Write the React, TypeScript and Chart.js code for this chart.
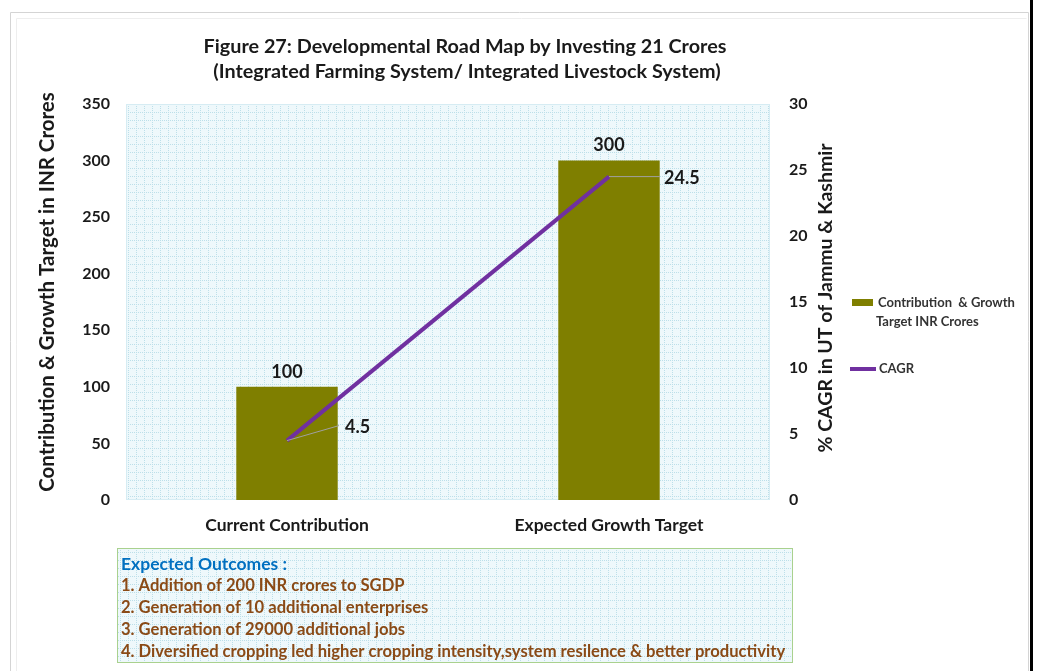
import React, { useEffect, useRef } from 'react';
import { Chart, registerables } from 'chart.js';

Chart.register(...registerables);

const titleLines = [
  'Figure 27: Developmental Road Map by Investing 21 Crores',
  '(Integrated Farming System/ Integrated Livestock System)',
];
const categories = ['Current Contribution', 'Expected Growth Target'];
const contributionValues = [100, 300];
const cagrValues = [4.5, 24.5];
const leftAxisTitle = 'Contribution & Growth Target in INR Crores';
const rightAxisTitle = '% CAGR in UT of Jammu & Kashmir';
const barLegendLines = ['Contribution  & Growth', 'Target INR Crores'];
const lineLegend = 'CAGR';
const outcomeHeading = 'Expected Outcomes :';
const outcomes = [
  '1. Addition of 200 INR crores to SGDP',
  '2. Generation of 10 additional enterprises',
  '3. Generation of 29000 additional jobs',
  '4. Diversified cropping led higher cropping intensity,system resilence & better productivity',
];

const FONT = 'Lato';
const BAR_COLOR = '#7f7f00';
const LINE_COLOR = '#7030a0';
const TEXT = '#1a1a1a';

function makePattern(ctx: CanvasRenderingContext2D) {
  const pc = document.createElement('canvas');
  pc.width = 8;
  pc.height = 8;
  const g = pc.getContext('2d')!;
  g.fillStyle = '#eef8fb';
  g.fillRect(0, 0, 8, 8);
  g.fillStyle = '#bcdfe9';
  for (let i = 0; i < 8; i += 2) {
    g.fillRect(0, i, 1, 1);
    g.fillRect(i, 0, 1, 1);
  }
  return ctx.createPattern(pc, 'repeat')!;
}

const decorPlugin = {
  id: 'decor',
  beforeDraw(chart: any) {
    const { ctx, chartArea, width, height } = chart;
    ctx.save();
    ctx.fillStyle = '#ffffff';
    ctx.fillRect(0, 0, width, height);
    ctx.strokeStyle = '#d4d4d4';
    ctx.lineWidth = 1;
    ctx.beginPath();
    ctx.moveTo(10.5, height);
    ctx.lineTo(10.5, 12.5);
    ctx.lineTo(1028.5, 12.5);
    ctx.lineTo(1028.5, height);
    ctx.stroke();
    ctx.strokeStyle = '#eeeeee';
    ctx.beginPath();
    ctx.moveTo(16.5, height);
    ctx.lineTo(16.5, 18.5);
    ctx.lineTo(1026.5, 18.5);
    ctx.stroke();
    ctx.fillStyle = '#000000';
    ctx.fillRect(1030, 0, 3, height);
    const pat = makePattern(ctx);
    ctx.fillStyle = pat;
    ctx.fillRect(chartArea.left, chartArea.top, chartArea.right - chartArea.left, chartArea.bottom - chartArea.top);
    ctx.strokeStyle = '#d6ecf3';
    ctx.strokeRect(chartArea.left + 0.5, chartArea.top + 0.5, chartArea.right - chartArea.left - 1, chartArea.bottom - chartArea.top - 1);
    ctx.restore();
  },
  afterDatasetsDraw(chart: any) {
    const { ctx } = chart;
    const barMeta = chart.getDatasetMeta(1);
    const lineMeta = chart.getDatasetMeta(0);
    ctx.save();
    ctx.font = `bold 18px ${FONT}`;
    ctx.fillStyle = TEXT;
    ctx.textAlign = 'center';
    ctx.textBaseline = 'middle';
    barMeta.data.forEach((el: any, i: number) => {
      ctx.fillText(String(contributionValues[i]), el.x, el.y - 15);
    });
    const offsets = [
      { lx: 52, ly: -15, tx: 58, ty: -13 },
      { lx: 51, ly: 0, tx: 55, ty: 2 },
    ];
    lineMeta.data.forEach((el: any, i: number) => {
      const o = offsets[i];
      ctx.strokeStyle = '#a0a0a0';
      ctx.lineWidth = 1;
      ctx.beginPath();
      ctx.moveTo(el.x, el.y);
      ctx.lineTo(el.x + o.lx, el.y + o.ly);
      ctx.stroke();
      ctx.textAlign = 'left';
      ctx.fillText(String(cagrValues[i]), el.x + o.tx, el.y + o.ty);
    });
    ctx.restore();
  },
  afterDraw(chart: any) {
    const { ctx } = chart;
    ctx.save();
    ctx.fillStyle = TEXT;
    ctx.font = `bold 19.8px ${FONT}`;
    ctx.textAlign = 'center';
    ctx.textBaseline = 'middle';
    ctx.fillText(titleLines[0], 465, 47);
    ctx.fillText(titleLines[1], 467, 72);
    ctx.font = `bold 20.5px ${FONT}`;
    ctx.save();
    ctx.translate(47, 292);
    ctx.rotate(-Math.PI / 2);
    ctx.fillText(leftAxisTitle, 0, 0);
    ctx.restore();
    ctx.font = `bold 19.5px ${FONT}`;
    ctx.save();
    ctx.translate(826, 298);
    ctx.rotate(-Math.PI / 2);
    ctx.fillText(rightAxisTitle, 0, 0);
    ctx.restore();
    // legend
    ctx.fillStyle = BAR_COLOR;
    ctx.fillRect(852, 299, 21, 7);
    ctx.fillStyle = '#333333';
    ctx.font = `bold 13px ${FONT}`;
    ctx.textAlign = 'left';
    ctx.fillText(barLegendLines[0], 878, 303);
    ctx.fillText(barLegendLines[1], 876, 322);
    ctx.strokeStyle = LINE_COLOR;
    ctx.lineWidth = 4;
    ctx.beginPath();
    ctx.moveTo(850, 369);
    ctx.lineTo(876, 369);
    ctx.stroke();
    ctx.fillText(lineLegend, 879, 369);
    // outcomes box
    const bx = 117, by = 548, bw = 675, bh = 114;
    ctx.fillStyle = makePattern(ctx);
    ctx.fillRect(bx, by, bw, bh);
    ctx.strokeStyle = '#a9d18e';
    ctx.lineWidth = 1;
    ctx.strokeRect(bx + 0.5, by + 0.5, bw, bh);
    ctx.font = `bold 17.5px ${FONT}`;
    ctx.fillStyle = '#0070c0';
    ctx.fillText(outcomeHeading, 121, 564);
    ctx.fillStyle = '#8a4a16';
    ctx.font = `bold 16.6px ${FONT}`;
    outcomes.forEach((t, i) => {
      ctx.fillText(t, 121, 586 + i * 22);
    });
    ctx.restore();
  },
};

export default function App() {
  const ref = useRef<HTMLCanvasElement | null>(null);
  useEffect(() => {
    if (!ref.current) return;
    Chart.defaults.font.family = FONT;
    const tickFont = { family: FONT, weight: 'bold', size: 16 };
    const chart = new Chart(ref.current, {
      type: 'bar',
      data: {
        labels: categories,
        datasets: [
          {
            type: 'line',
            label: lineLegend,
            data: cagrValues,
            yAxisID: 'y1',
            borderColor: LINE_COLOR,
            backgroundColor: LINE_COLOR,
            borderWidth: 4,
            pointRadius: 0,
            order: 0,
          } as any,
          {
            type: 'bar',
            label: barLegendLines.join(' '),
            data: contributionValues,
            yAxisID: 'y',
            backgroundColor: BAR_COLOR,
            barPercentage: 0.315,
            categoryPercentage: 1,
            order: 1,
          },
        ],
      },
      options: {
        responsive: false,
        animation: false,
        devicePixelRatio: 1,
        layout: { padding: { top: 104, bottom: 131, right: 188, left: 0 } },
        plugins: {
          legend: { display: false },
          tooltip: { enabled: false },
          title: { display: false },
        },
        scales: {
          x: {
            grid: { display: false, drawTicks: false },
            border: { display: false },
            ticks: { font: { family: FONT, weight: 'bold', size: 17.5 }, color: TEXT, padding: 15 },
            afterFit: (s: any) => { s.height = 40; },
          },
          y: {
            position: 'left',
            min: 0,
            max: 350,
            ticks: { stepSize: 50, padding: 16, font: tickFont, color: TEXT },
            grid: { display: false, drawTicks: false },
            border: { display: false },
            afterFit: (s: any) => { s.width = 126; },
          },
          y1: {
            position: 'right',
            min: 0,
            max: 30,
            ticks: { stepSize: 5, padding: 19, font: tickFont, color: TEXT },
            grid: { display: false, drawTicks: false },
            border: { display: false },
            afterFit: (s: any) => { s.width = 80; },
          },
        } as any,
      },
      plugins: [decorPlugin],
    });
    return () => chart.destroy();
  }, []);
  return (
    <div style={{ position: 'fixed', left: 0, top: 0, width: 1038, height: 671, background: '#fff' }}>
      <canvas ref={ref} width={1038} height={671} style={{ display: 'block' }} />
    </div>
  );
}
